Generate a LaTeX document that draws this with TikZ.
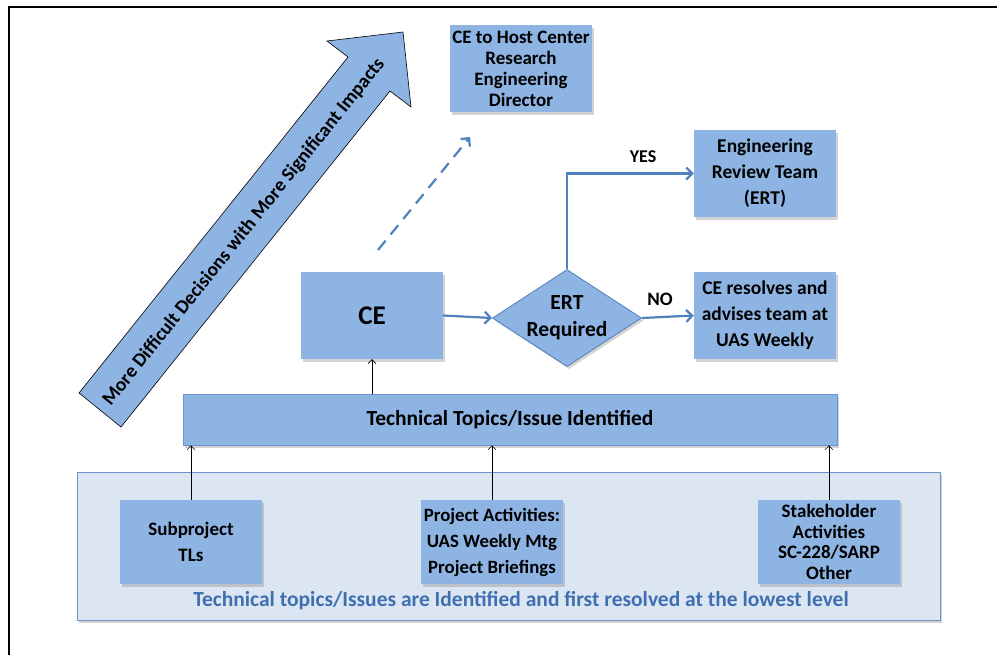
\documentclass[tikz,border=0pt]{standalone}
\usepackage{fontspec}
\setmainfont{Carlito}
\usetikzlibrary{shapes.geometric,arrows.meta,shadows}
\definecolor{boxblue}{HTML}{8EB4E3}
\definecolor{lineblue}{HTML}{4F81BD}
\definecolor{contfill}{HTML}{DCE6F2}
\definecolor{contline}{HTML}{6A93CB}
\definecolor{txtblue}{HTML}{3F6FAE}
\begin{document}
\begin{tikzpicture}[x=1pt,y=-1pt,
  shd/.style={drop shadow={shadow xshift=2pt,shadow yshift=-2.5pt,opacity=0.35}},
  bx/.style={shd,fill=boxblue,inner sep=0pt,align=center,
    minimum width=142pt,minimum height=87pt,
    font=\fontsize{19}{21}\selectfont\bfseries},
  lowbox/.style={bx,minimum height=84pt},
  bluearrow/.style={draw=lineblue,line width=2.2pt,-{Straight Barb[length=6pt,width=12pt]}},
  thinarrow/.style={draw=black,line width=0.6pt,-{Straight Barb[length=4pt,width=8pt]}},
  lbl/.style={font=\fontsize{18}{20}\selectfont\bfseries,inner sep=0pt}]
\useasboundingbox (0,0) rectangle (997,654);
% frame
\draw[line width=2pt] (1000,7) -- (9,7) -- (9,660);
% big arrow
\draw[fill=boxblue,line width=0.6pt,line join=miter]
  (79,393) -- (348,57) -- (327,41) -- (403,32) -- (411,107) -- (390,91) -- (121,427) -- cycle;
\node[rotate=51.3,font=\fontsize{19.5}{22}\selectfont\bfseries,inner sep=0pt] (arrtext) at (244,232)
  {More Difficult Decisions with More Significant Impacts};
% container
\node[shd,fill=contfill,draw=contline,line width=1pt,minimum width=863pt,minimum height=148pt,inner sep=0pt] (cont) at (508.5,546) {};
% boxes
\node[bx] (host) at (521,68.5) {CE to Host Center\\Research\\Engineering\\Director};
\node[bx,font=\fontsize{27}{30}\selectfont\bfseries] (ce) at (372,315.5) {CE};
\node[bx,font=\fontsize{19.5}{26}\selectfont\bfseries] (ert) at (765,173.5) {Engineering\\Review Team\\(ERT)};
\node[bx,font=\fontsize{19.5}{26}\selectfont\bfseries] (res) at (765,315.5) {CE resolves and\\advises team at\\UAS Weekly};
\node[diamond,shd,fill=boxblue,draw=lineblue,line width=0.8pt,inner sep=0pt,aspect=1.54,
  minimum width=149pt,minimum height=97pt,align=center,
  font=\fontsize{21.5}{27}\selectfont\bfseries] (dia) at (567,318) {ERT\\Required};
\node[bx,draw=contline,line width=0.6pt,minimum width=654pt,minimum height=51pt,
  font=\fontsize{21.5}{24}\selectfont\bfseries] (tech) at (510,419.5) {Technical Topics/Issue Identified};
\node[lowbox,font=\fontsize{19}{26}\selectfont\bfseries] (sub) at (191,542) {Subproject\\TLs};
\node[lowbox,font=\fontsize{18.8}{26}\selectfont\bfseries] (proj) at (492,542) {Project Activities:\\UAS Weekly Mtg\\Project Briefings};
\node[lowbox,font=\fontsize{19}{20.5}\selectfont\bfseries] (stake) at (829,542) {Stakeholder\\Activities\\SC-228/SARP\\Other};
\node[font=\fontsize{21.5}{24}\selectfont\bfseries,text=txtblue,inner sep=0pt] (bottom) at (521,601)
  {Technical topics/Issues are Identified and first resolved at the lowest level};
% labels
\node[lbl] (yes) at (643,157) {YES};
\node[lbl,font=\fontsize{19}{20}\selectfont\bfseries] (no) at (660,299) {NO};
% connectors
\coordinate (dashs) at (378,250);
\coordinate (dashe) at (470,137);
\draw[bluearrow,dash pattern=on 12pt off 8pt] (dashs) -- (dashe);
\draw[bluearrow] (ce.east) -- (dia.west);
\draw[bluearrow] (dia.east) -- (res.west);
\draw[bluearrow] (dia.north) |- (ert.west);
\draw[thinarrow] (tech.north -| ce.south) -- (ce.south);
\draw[thinarrow] (sub.north) -- (sub.north |- tech.south);
\draw[thinarrow] (proj.north) -- (proj.north |- tech.south);
\draw[thinarrow] (stake.north) -- (stake.north |- tech.south);
\end{tikzpicture}
\end{document}
